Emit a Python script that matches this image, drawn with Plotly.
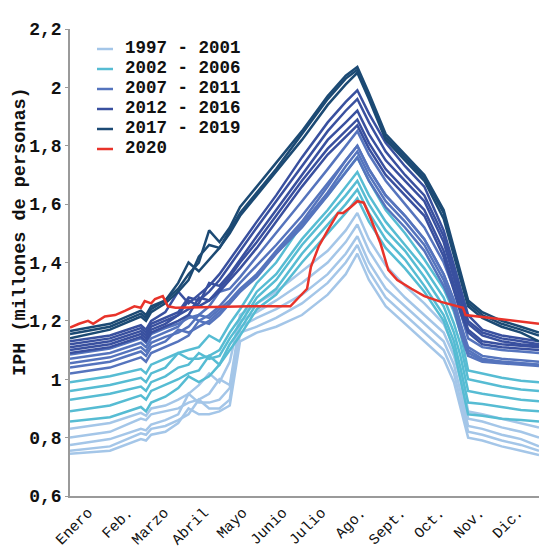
import plotly.graph_objects as go

# Day-of-year anchors (0 = 1 Jan) used for the 1997-2019 series
days = [0, 31, 55, 59, 63, 74, 84, 92, 100, 108, 116, 124, 132, 145, 160, 180, 200, 214,
        223, 232, 245, 260, 275, 290, 298, 303, 309, 320, 335, 350, 364]

iph_1997 = [.745,.755,.795,.79,.81,.82,.85,.90,.88,.88,.89,.91,1.13,1.16,1.18,1.22,1.29,1.36,1.43,1.34,1.25,1.19,1.13,1.07,.99,.90,.80,.79,.77,.755,.74]
iph_1998 = [.755,.77,.815,.81,.83,.84,.86,.88,.93,.90,.90,.93,1.16,1.18,1.21,1.26,1.33,1.40,1.46,1.37,1.28,1.22,1.16,1.10,1.02,.93,.82,.81,.79,.775,.755]
iph_1999 = [.775,.795,.83,.825,.845,.86,.88,.95,.92,.92,.93,.97,1.18,1.21,1.24,1.29,1.36,1.43,1.49,1.40,1.31,1.25,1.19,1.13,1.05,.96,.84,.83,.81,.795,.77]
iph_2000 = [.80,.82,.865,.86,.88,.89,.90,.92,.93,.95,1.0,.98,1.20,1.23,1.27,1.33,1.40,1.47,1.53,1.44,1.35,1.28,1.22,1.16,1.08,1.0,.865,.855,.835,.82,.80]
iph_2001 = [.83,.85,.885,.875,.90,.91,.93,.95,.98,1.02,.99,1.06,1.22,1.26,1.30,1.37,1.44,1.51,1.57,1.48,1.39,1.32,1.26,1.19,1.11,1.03,.89,.88,.865,.85,.835]

iph_2002 = [.855,.87,.905,.89,.92,.94,.97,1.01,.99,1.01,1.05,1.10,1.15,1.24,1.29,1.40,1.50,1.57,1.62,1.54,1.45,1.38,1.30,1.20,1.10,1.00,.88,.875,.865,.86,.855]
iph_2003 = [.89,.91,.945,.93,.96,.98,1.0,1.02,1.03,1.08,1.05,1.12,1.17,1.26,1.31,1.43,1.53,1.60,1.65,1.57,1.48,1.41,1.32,1.22,1.13,1.04,.92,.915,.905,.895,.89]
iph_2004 = [.93,.95,.975,.96,.99,1.01,1.04,1.05,1.09,1.07,1.08,1.14,1.19,1.28,1.34,1.46,1.56,1.63,1.68,1.60,1.51,1.44,1.35,1.25,1.16,1.08,.96,.95,.94,.93,.925]
iph_2005 = [.96,.98,1.005,.99,1.02,1.04,1.09,1.07,1.07,1.08,1.10,1.16,1.21,1.30,1.36,1.48,1.58,1.66,1.71,1.63,1.54,1.46,1.38,1.28,1.19,1.12,1.0,.99,.975,.965,.96]
iph_2006 = [.99,1.01,1.035,1.02,1.05,1.07,1.09,1.10,1.11,1.15,1.13,1.19,1.24,1.33,1.40,1.53,1.63,1.71,1.76,1.68,1.58,1.50,1.41,1.31,1.23,1.16,1.03,1.02,1.005,.995,.99]

iph_2007 = [1.02,1.04,1.075,1.06,1.09,1.11,1.13,1.15,1.20,1.19,1.22,1.26,1.30,1.36,1.44,1.54,1.66,1.75,1.80,1.72,1.63,1.56,1.48,1.36,1.27,1.19,1.10,1.07,1.06,1.055,1.05]
iph_2008 = [1.04,1.06,1.095,1.08,1.11,1.13,1.17,1.16,1.18,1.20,1.23,1.26,1.30,1.35,1.43,1.53,1.64,1.73,1.78,1.70,1.61,1.54,1.46,1.34,1.25,1.17,1.09,1.065,1.06,1.055,1.05]
iph_2009 = [1.055,1.075,1.11,1.095,1.125,1.145,1.16,1.18,1.22,1.21,1.24,1.27,1.31,1.36,1.43,1.52,1.63,1.71,1.76,1.68,1.59,1.52,1.44,1.32,1.24,1.16,1.08,1.06,1.055,1.05,1.045]
iph_2010 = [1.07,1.09,1.125,1.11,1.14,1.16,1.18,1.22,1.20,1.22,1.25,1.29,1.33,1.39,1.46,1.56,1.67,1.75,1.80,1.72,1.63,1.56,1.48,1.36,1.27,1.19,1.11,1.08,1.07,1.065,1.06]
iph_2011 = [1.085,1.105,1.14,1.125,1.155,1.175,1.19,1.21,1.22,1.25,1.30,1.31,1.35,1.42,1.50,1.61,1.72,1.80,1.85,1.77,1.68,1.60,1.52,1.40,1.31,1.23,1.14,1.11,1.10,1.095,1.09]

iph_2012 = [1.09,1.11,1.145,1.13,1.16,1.18,1.20,1.22,1.28,1.27,1.30,1.34,1.38,1.45,1.54,1.66,1.77,1.83,1.87,1.79,1.70,1.63,1.56,1.42,1.30,1.23,1.16,1.12,1.11,1.105,1.10]
iph_2013 = [1.10,1.12,1.155,1.14,1.17,1.19,1.22,1.27,1.25,1.27,1.31,1.35,1.40,1.47,1.56,1.68,1.79,1.85,1.89,1.81,1.72,1.65,1.58,1.44,1.32,1.25,1.17,1.13,1.12,1.115,1.11]
iph_2014 = [1.11,1.13,1.165,1.15,1.18,1.20,1.22,1.24,1.26,1.33,1.32,1.36,1.41,1.49,1.58,1.70,1.82,1.88,1.92,1.84,1.75,1.68,1.61,1.47,1.35,1.27,1.19,1.15,1.13,1.12,1.115]
iph_2015 = [1.12,1.14,1.175,1.16,1.19,1.21,1.23,1.28,1.27,1.30,1.34,1.39,1.44,1.52,1.61,1.73,1.85,1.92,1.96,1.88,1.78,1.70,1.63,1.49,1.37,1.29,1.20,1.16,1.14,1.13,1.12]
iph_2016 = [1.13,1.15,1.185,1.17,1.20,1.23,1.30,1.26,1.29,1.32,1.36,1.41,1.46,1.54,1.63,1.76,1.88,1.95,1.99,1.91,1.81,1.73,1.66,1.51,1.39,1.31,1.22,1.17,1.15,1.14,1.13]

iph_2017 = [1.14,1.17,1.215,1.20,1.23,1.26,1.30,1.34,1.42,1.46,1.45,1.50,1.56,1.63,1.71,1.82,1.94,2.01,2.05,1.96,1.82,1.75,1.68,1.55,1.42,1.34,1.25,1.21,1.18,1.16,1.13]
iph_2018 = [1.155,1.18,1.225,1.21,1.24,1.27,1.33,1.40,1.37,1.41,1.45,1.51,1.57,1.64,1.72,1.84,1.96,2.03,2.06,1.97,1.83,1.76,1.69,1.57,1.44,1.35,1.26,1.22,1.19,1.17,1.15]
iph_2019 = [1.165,1.19,1.235,1.22,1.25,1.27,1.31,1.36,1.40,1.51,1.47,1.52,1.59,1.66,1.74,1.85,1.97,2.04,2.07,1.98,1.84,1.77,1.70,1.58,1.45,1.36,1.27,1.23,1.20,1.18,1.16]

days_2020 = [0, 7, 14, 18, 27, 35, 43, 50, 55, 58, 63, 66, 72, 76, 82, 140, 171, 179, 184, 187,
             193, 200, 208, 212, 218, 223, 228, 233, 241, 247, 254, 265, 275, 288, 305, 307, 335, 364]
iph_2020 = [1.177, 1.19, 1.20, 1.19, 1.215, 1.22, 1.235, 1.25, 1.245, 1.268, 1.26, 1.275, 1.285, 1.25,
            1.245, 1.25, 1.25, 1.285, 1.31, 1.385, 1.455, 1.51, 1.57, 1.57, 1.59, 1.61, 1.605, 1.555,
            1.465, 1.375, 1.34, 1.31, 1.285, 1.265, 1.245, 1.22, 1.205, 1.19]

month_days = [14, 45, 73, 104, 134, 165, 195, 226, 257, 287, 318, 348]
month_labels = ["Enero", "Feb.", "Marzo", "Abril", "Mayo", "Junio", "Julio",
                "Ago.", "Sept.", "Oct.", "Nov.", "Dic."]
y_ticks = [0.6, 0.8, 1.0, 1.2, 1.4, 1.6, 1.8, 2.0, 2.2]

group_names = ["1997 - 2001", "2002 - 2006", "2007 - 2011", "2012 - 2016", "2017 - 2019"]
group_colors = ["#a4c6e8", "#56bcd3", "#5574bd", "#39509f", "#1c4a74"]
color_2020 = "#e8332a"

series = [
    [iph_1997, iph_1998, iph_1999, iph_2000, iph_2001],
    [iph_2002, iph_2003, iph_2004, iph_2005, iph_2006],
    [iph_2007, iph_2008, iph_2009, iph_2010, iph_2011],
    [iph_2012, iph_2013, iph_2014, iph_2015, iph_2016],
    [iph_2017, iph_2018, iph_2019],
]

FONT = "Liberation Mono"
W, H = 539, 549
ML, MR, MT, MB = 70, 0, 29, 46
PW, PH = W - ML - MR, H - MT - MB


def px_x(px):
    return (px - ML) / PW


def px_y(py):
    return (H - MB - py) / PH


fig = go.Figure()
for name, color, ys in zip(group_names, group_colors, series):
    for y in ys:
        fig.add_trace(go.Scatter(
            x=days, y=y, mode="lines", name=name, legendgroup=name,
            showlegend=False, line=dict(color=color, width=2.5),
            hoverinfo="skip"))
fig.add_trace(go.Scatter(
    x=days_2020, y=iph_2020, mode="lines", name="2020", showlegend=False,
    line=dict(color=color_2020, width=2.5), hoverinfo="skip"))

# Compact legend (swatch + label), drawn in paper coordinates
legend_names = group_names + ["2020"]
legend_colors = group_colors + [color_2020]
text_centers = [47, 67.3, 87.6, 107.9, 128.2, 148.5]
annotations = []
shapes = []
for i, (nm, col) in enumerate(zip(legend_names, legend_colors)):
    ty = text_centers[i]
    shapes.append(dict(type="line", xref="paper", yref="paper",
                       x0=px_x(97), x1=px_x(113), y0=px_y(ty + 2.3), y1=px_y(ty + 2.3),
                       line=dict(color=col, width=2.5)))
    annotations.append(dict(xref="paper", yref="paper", x=px_x(124), y=px_y(ty + 1),
                            xanchor="left", yanchor="middle", showarrow=False,
                            borderpad=0,
                            text=nm, font=dict(family=FONT, size=17.5, weight="bold",
                                               color="#111")))

annotations.append(dict(xref="paper", yref="paper", x=px_x(21), y=px_y(235),
                        xanchor="center", yanchor="middle", showarrow=False,
                        textangle=-90, text="IPH (millones de personas)",
                        font=dict(family=FONT, size=18.5, weight="bold", color="#111")))

fig.update_layout(
    width=W, height=H,
    margin=dict(l=ML, r=MR, t=MT, b=MB),
    plot_bgcolor="white", paper_bgcolor="white",
    separators=",.",
    font=dict(family=FONT, color="#111"),
    showlegend=False,
    annotations=annotations,
    shapes=shapes,
)
fig.update_xaxes(range=[0, 364], tickvals=month_days, ticktext=month_labels,
                 tickangle=-45, showline=True, linecolor="#9a9a9a", linewidth=1.5,
                 showgrid=False, zeroline=False, ticks="",
                 tickfont=dict(family=FONT, size=15, color="#111"))
fig.update_yaxes(range=[0.6, 2.2], tickvals=y_ticks, showline=True,
                 linecolor="#9a9a9a", linewidth=1.5, showgrid=False, zeroline=False,
                 ticks="outside", ticklen=3, tickcolor="#9a9a9a",
                 tickfont=dict(family=FONT, size=18, weight="bold", color="#111"))
fig.write_html("out.html")
